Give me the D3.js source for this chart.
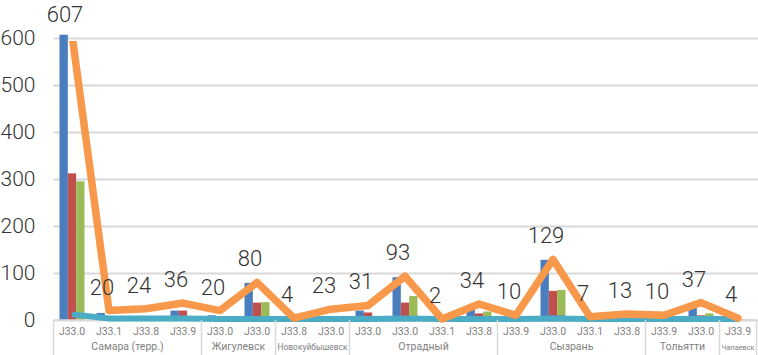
<!DOCTYPE html>
<html>
<head>
<meta charset="utf-8">
<script src="https://cdn.jsdelivr.net/npm/d3@7"></script>
<style>
  body { margin: 0; background: #fff; }
  svg { display: block; }
  text { font-family: Roboto, "Liberation Sans", sans-serif; }
</style>
</head>
<body>
<svg></svg>
<script>
// categories (second level = city)
var codes = ["J33.0", "J33.1", "J33.8", "J33.9", "J33.0", "J33.0", "J33.8", "J33.0", "J33.0", "J33.0",
             "J33.1", "J33.8", "J33.9", "J33.0", "J33.1", "J33.8", "J33.9", "J33.0", "J33.9"];
var cities = ["Самара (терр.)", "Самара (терр.)", "Самара (терр.)", "Самара (терр.)",
              "Жигулевск", "Жигулевск",
              "Новокуйбышевск", "Новокуйбышевск",
              "Отрадный", "Отрадный", "Отрадный", "Отрадный",
              "Сызрань", "Сызрань", "Сызрань", "Сызрань",
              "Тольятти", "Тольятти",
              "Чапаевск"];

// bar series
var blueVals  = [607, 15, 8, 20, 10, 79, 2, 5, 20, 91, 1, 30, 3, 128, 3, 2, 3, 28, 2];
var redVals   = [312, 3, 5, 20, 5, 37, 1, 4, 16, 37, 1, 14, 2, 62, 2, 1, 1, 10, 1];
var greenVals = [295, 3, 5, 3, 3, 38, 1, 6, 4, 51, 1, 18, 2, 64, 2, 1, 1, 14, 1];

// line series
var totalVals  = [607, 20, 24, 36, 20, 80, 4, 23, 31, 93, 2, 34, 10, 129, 7, 13, 10, 37, 4];
var purpleVals = [10, 2, 1, 1, 1, 2, 1, 1, 1, 2, 1, 1, 2, 8, 2, 1, 1, 1, 1];
var cyanVals   = [12, 3, 3, 3, 2, 2, 2, 2, 2, 3, 2, 2, 2, 3, 2, 2, 2, 2, 2];

var yTicks = [0, 100, 200, 300, 400, 500, 600];

var svgWidth = 758, svgHeight = 355;
var plotLeft = 53.5, plotRight = 756.5, plotTop = 38, plotBottom = 320;

var svg = d3.select("svg")
    .attr("width", svgWidth)
    .attr("height", svgHeight);

var idx = d3.range(codes.length);

var x = d3.scaleBand()
    .domain(idx)
    .range([plotLeft, plotRight])
    .padding(0);

var series = ["blue", "red", "green"];
var colors = {blue: "#4a7ebf", red: "#c0504d", green: "#9bbb59"};
var seriesVals = {blue: blueVals, red: redVals, green: greenVals};

var x1 = d3.scaleBand()
    .domain(series)
    .range([0, x.bandwidth()])
    .paddingInner(0)
    .paddingOuter(0.72);

var y = d3.scaleLinear()
    .domain([0, 600])
    .range([plotBottom, plotTop]);

var defs = svg.append("defs");
// plot area clip for the lines (values above 600 get cut like in the original)
defs.append("clipPath").attr("id", "plotClip")
  .append("rect")
    .attr("x", 0).attr("y", plotTop + 3)
    .attr("width", svgWidth).attr("height", svgHeight - plotTop);

// gridlines
var grid = svg.append("g")
    .attr("transform", "translate(" + plotLeft + ",0)")
    .call(d3.axisLeft(y).tickValues(yTicks).tickSize(-(svgWidth - plotLeft)).tickFormat(""));
grid.select(".domain").remove();
grid.selectAll("line").attr("stroke", "#d9d9d9").attr("stroke-width", 2);

// y axis labels
var yAxis = svg.append("g")
    .attr("transform", "translate(" + plotLeft + ",0)")
    .call(d3.axisLeft(y).tickValues(yTicks).tickSize(0).tickPadding(18));
yAxis.select(".domain").remove();
yAxis.selectAll("text")
    .attr("font-size", 21)
    .attr("font-weight", 300)
    .attr("fill", "#333");

// bars
series.forEach(function(s) {
  svg.append("g").selectAll("rect")
    .data(idx)
    .join("rect")
      .attr("x", function(i) { return x(i) + x1(s); })
      .attr("width", x1.bandwidth())
      .attr("y", function(i) { return y(seriesVals[s][i]); })
      .attr("height", function(i) { return y(0) - y(seriesVals[s][i]); })
      .attr("fill", colors[s]);
});

var line = function(vals) {
  return d3.line()
    .x(function(i) { return x(i) + x.bandwidth() / 2; })
    .y(function(i) { return y(vals[i]); })(idx);
};

// x axis line
svg.append("line")
    .attr("x1", plotLeft).attr("x2", plotRight)
    .attr("y1", plotBottom).attr("y2", plotBottom)
    .attr("stroke", "#d9d9d9").attr("stroke-width", 1.5);

svg.append("path")
    .attr("d", line(purpleVals))
    .attr("fill", "none")
    .attr("stroke", "#7a5c9e")
    .attr("stroke-width", 2.5);

svg.append("path")
    .attr("d", line(cyanVals))
    .attr("fill", "none")
    .attr("stroke", "#4bacc6")
    .attr("stroke-width", 6)
    .attr("stroke-linejoin", "round");

svg.append("path")
    .attr("clip-path", "url(#plotClip)")
    .attr("d", line(totalVals))
    .attr("fill", "none")
    .attr("stroke", "#f7984a")
    .attr("stroke-width", 7.5)
    .attr("stroke-linejoin", "round")
    .attr("stroke-linecap", "round");

// data labels
svg.append("g").selectAll("text")
  .data(idx)
  .join("text")
    .attr("x", function(i) { return x(i) + x.bandwidth() / 2 - 7; })
    .attr("y", function(i) { return y(Math.min(totalVals[i], 600)) - 16; })
    .attr("text-anchor", "middle")
    .attr("font-size", 22)
    .attr("font-weight", 300)
    .attr("fill", "#333")
    .text(function(i) { return totalVals[i]; });

// category axis
var xAxis = svg.append("g")
    .attr("transform", "translate(0," + plotBottom + ")")
    .call(d3.axisBottom(x).tickSize(0).tickPadding(8).tickFormat(function(i) { return codes[i]; }));
xAxis.select(".domain").remove();
xAxis.selectAll("text")
    .attr("font-size", 10.5)
    .attr("fill", "#7f7f7f");

// city groups
var groups = [];
idx.forEach(function(i) {
  if (i === 0 || cities[i] !== cities[i - 1]) groups.push({name: cities[i], start: i, end: i});
  else groups[groups.length - 1].end = i;
});

var bounds = groups.map(function(g) { return x(g.start); }).concat([plotRight]);
svg.append("g").selectAll("line")
  .data(bounds)
  .join("line")
    .attr("x1", function(d) { return d; })
    .attr("x2", function(d) { return d; })
    .attr("y1", plotBottom)
    .attr("y2", svgHeight)
    .attr("stroke", "#d9d9d9")
    .attr("stroke-width", 1.5);

svg.append("g").selectAll("text")
  .data(groups)
  .join("text")
    .attr("x", function(g) { return (x(g.start) + x(g.end) + x.bandwidth()) / 2; })
    .attr("y", 350)
    .attr("text-anchor", "middle")
    .attr("font-size", 10.5)
    .attr("fill", "#7f7f7f")
    .text(function(g) { return g.name; })
    .each(function(g) {
      // shrink names that are wider than their box
      var box = x(g.end) + x.bandwidth() - x(g.start) - 4;
      var len = this.getComputedTextLength();
      if (len > box) d3.select(this).attr("font-size", 10.5 * box / len);
    });
</script>
</body>
</html>
